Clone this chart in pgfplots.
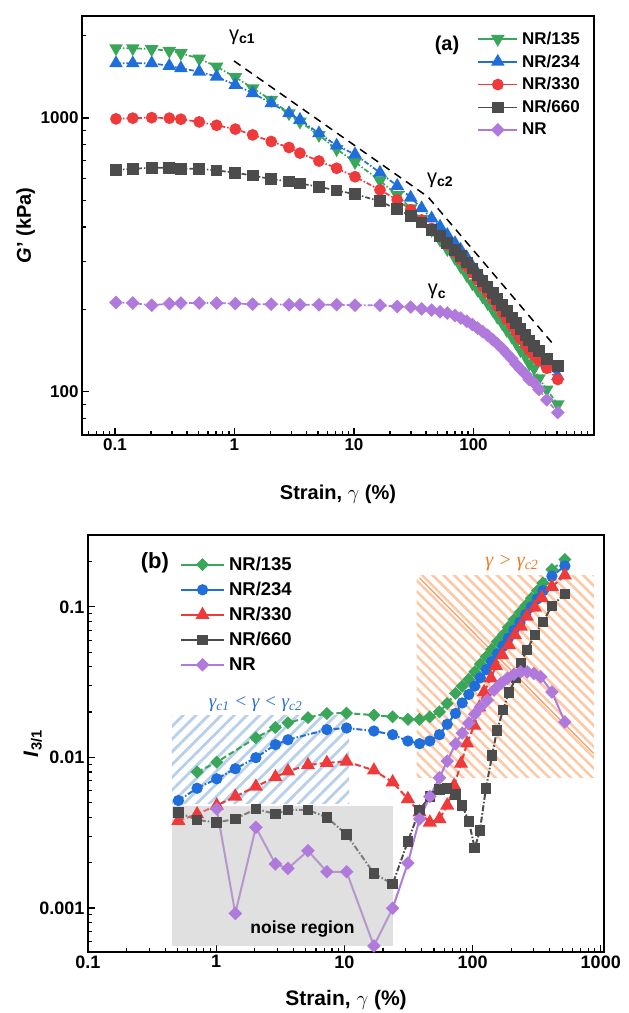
\documentclass[border=0pt]{standalone}
\usepackage{fontspec}
\setmainfont{Liberation Sans}
\newfontfamily\serifit{Liberation Serif}
\usepackage{pgfplots}
\usepackage{pgfplotstable}
\pgfplotsset{compat=1.18}
\usetikzlibrary{patterns.meta}

\definecolor{cgreen}{RGB}{58,166,90}
\definecolor{cblue}{RGB}{32,110,220}
\definecolor{cred}{RGB}{238,58,58}
\definecolor{cgrey}{RGB}{76,76,76}
\definecolor{cpurple}{RGB}{176,122,220}
\definecolor{hblue}{RGB}{184,208,234}
\definecolor{horange}{RGB}{253,200,165}
\definecolor{dorange}{RGB}{245,160,110}
\definecolor{torange}{RGB}{240,120,30}
\definecolor{tblue}{RGB}{40,112,210}
\definecolor{noisegrey}{RGB}{187,187,187}

\pgfplotstableread{
x g135 g234 g330 g660 gNR
0.102 1796 1583 992 646 212
0.141 1796 1583 998 652 211
0.203 1782 1583 1002 658 207
0.285 1758 1549 998 658 210
0.356 1723 1518 989 652 211
0.507 1645 1475 967 652 211
0.709 1539 1415 940 643 211
1.016 1408 1320 910 631 210
1.42 1283 1231 867 616 209
2.03 1163 1131 820 598 209
2.86 1040 1040 780 586 208
3.53 969 984 744 576 208
5.09 866 879 696 561 208
7.16 769 793 655 543 208
10.2 690 736 610 527 207
16.5 590 631 546 496 207
23.0 523 565 502 464 205
29.8 468 512 462 439 204
36.8 427 468 424 415 201
44.6 390 430 395 390 199
52.5 359 401 368 370 196
60.4 332 374 345 350 194
70.0 308 349 323 330 190
78.1 287 330 305 313 186
87.7 267 310 288 297 181
97.8 249 288 272 282 176
108 236 271 257 267 171
119 223 255 243 254 166
131 211 241 230 241 161
145 199 228 218 229 155
158 188 214 206 218 150
174 178 202 195 207 144
190 168 191 184 197 138
209 159 181 175 187 132
227 151 171 166 178 126
247 142 161 157 170 121
272 135 155 149 161 116
293 127 148 142 154 111
321 122 142 136 147 108
353 112 137 130 141 102
410 102 127 122 132 93.5
507 90 114 111 124 84
}\dataA

\pgfplotstableread{
x y
0.71 0.0080
1.01 0.0093
2.04 0.0135
2.9 0.0158
3.63 0.0170
5.2 0.0184
7.3 0.0196
10.4 0.0197
17 0.0191
23.8 0.0186
31.3 0.0179
38.6 0.0179
46.4 0.0186
55.2 0.0201
63.4 0.0228
73.6 0.0266
83 0.0297
93.5 0.033
104 0.037
115 0.0417
128 0.0467
141 0.0522
156 0.0588
173 0.065
190 0.073
210 0.082
234 0.0916
260 0.102
288 0.114
320 0.128
354 0.144
416 0.177
525 0.206
}\bGreen

\pgfplotstableread{
x y
0.507 0.00517
0.71 0.00624
1.01 0.00721
1.41 0.00841
2.04 0.00996
2.9 0.01216
3.63 0.0131
7.3 0.0153
10.4 0.01568
17 0.01497
23.8 0.01416
31.3 0.01285
38.6 0.01234
46.4 0.01285
55.2 0.01416
63.4 0.0166
73.6 0.0196
83 0.023
93.5 0.0262
104 0.0298
115 0.0338
128 0.0383
141 0.0432
156 0.0487
173 0.055
190 0.062
210 0.070
234 0.079
260 0.089
288 0.100
320 0.113
354 0.128
416 0.160
525 0.187
}\bBlue

\pgfplotstableread{
x y
0.507 0.0038
0.71 0.0042
1.01 0.0048
1.41 0.0055
2.04 0.0064
2.9 0.0074
3.63 0.0081
5.2 0.0089
7.3 0.0092
10.4 0.0094
17 0.0082
23.8 0.00685
31.3 0.0053
38.6 0.00432
46.4 0.0037
55.2 0.0039
63.4 0.0048
71.8 0.0065
81.3 0.0091
90.6 0.0124
103 0.0163
113 0.0215
123 0.0272
139 0.0336
152 0.0406
170 0.0479
192 0.0558
214 0.065
238 0.074
265 0.0862
306 0.099
347 0.115
416 0.136
525 0.162
}\bRed

\pgfplotstableread{
x y
0.507 0.00432
0.71 0.00384
1.01 0.0037
1.41 0.0039
2.04 0.00455
2.9 0.00421
3.63 0.00448
5.2 0.00448
7.3 0.0040
10.4 0.00307
17 0.0017
23.8 0.00144
31.3 0.00277
38.6 0.00448
46.4 0.0055
55.2 0.0061
63.4 0.0062
73.6 0.00567
83 0.0048
93.5 0.00376
104 0.0025
114 0.00326
127 0.0062
142 0.0103
155 0.0151
173 0.0206
192 0.0271
218 0.0336
238 0.0423
265 0.0517
306 0.065
354 0.0794
416 0.1016
525 0.122
}\bGrey

\pgfplotstableread{
x y
1.01 0.00455
1.41 0.00092
2.04 0.00343
2.9 0.00196
3.63 0.00183
5.2 0.0024
7.3 0.00174
10.4 0.00174
17 0.00056
23.8 0.000995
31.3 0.00199
38.6 0.0039
46.4 0.0055
55.2 0.00733
63.4 0.00945
73.6 0.0123
83 0.0145
93.5 0.0169
104 0.0194
115 0.0216
130 0.024
147 0.028
166 0.031
187 0.0335
210 0.0357
237 0.037
267 0.037
301 0.0361
340 0.0343
416 0.0272
525 0.0172
}\bPurple

\begin{document}
\begin{tikzpicture}
% ---------------- panel (a) ----------------
\begin{axis}[
  scale only axis, xmode=log, ymode=log,
  axis line style={line width=1.6pt},
  tick style={line width=1.2pt, black},
  major tick length=7pt, minor tick length=4pt,
  tick align=inside, tick pos=left,
  legend cell align=left,
  at={(0pt,0pt)}, anchor=south west,
  width=512pt, height=419pt,
  xmin=0.053, xmax=1019, ymin=69.6, ymax=2355,
  xtick={0.1,1,10,100}, xticklabels={0.1,1,10,100},
  minor xtick={0.06,0.07,0.08,0.09,0.2,0.3,0.4,0.5,0.6,0.7,0.8,0.9,2,3,4,5,6,7,8,9,20,30,40,50,60,70,80,90,200,300,400,500,600,700,800,900},
  ytick={100,1000}, yticklabels={100,1000},
  minor ytick={70,80,90,200,300,400,500,600,700,800,900,2000},
  tick label style={font=\fontsize{17}{19}\selectfont\bfseries},
  xlabel={Strain, $\gamma$ (\%)},
  ylabel={\textit{G}’ (kPa)},
  label style={font=\fontsize{20}{22}\selectfont\bfseries},
  xlabel style={at={(axis description cs:0.5,-0.141)}, anchor=center},
  ylabel style={at={(axis description cs:-0.11,0.5)}, anchor=center},
  legend style={draw=none, fill=none, at={(0.772,0.967)}, anchor=north west,
    inner sep=0pt, row sep=5pt, column sep=2pt,
    font=\fontsize{17}{17}\selectfont\bfseries},
  legend image code/.code={\draw[mark repeat=2,mark phase=2,#1,solid] plot coordinates {(0pt,0pt) (19.5pt,0pt) (39pt,0pt)};},
]
\addplot[forget plot, line width=1.5pt, black, dash pattern=on 8pt off 6pt] coordinates {(0.99,1615) (41.6,515) (454,151)};

\addplot[line width=1.7pt, dash pattern=on 5pt off 2pt on 1.5pt off 2pt, color=cgreen, mark=triangle*, mark size=6.2pt, mark options={solid, rotate=180}] table[x=x,y=g135] {\dataA};
\addlegendentry{NR/135}
\addplot[line width=1.7pt, dash pattern=on 5pt off 2pt on 1.5pt off 2pt, color=cblue, mark=triangle*, mark size=6.2pt, mark options={solid}] table[x=x,y=g234] {\dataA};
\addlegendentry{NR/234}
\addplot[line width=1.7pt, dash pattern=on 5pt off 2pt on 1.5pt off 2pt, color=cred, mark=*, mark size=5pt, mark options={solid}] table[x=x,y=g330] {\dataA};
\addlegendentry{NR/330}
\addplot[line width=1.7pt, dash pattern=on 5pt off 2pt on 1.5pt off 2pt, color=cgrey, mark=square*, mark size=5pt, mark options={solid}] table[x=x,y=g660] {\dataA};
\addlegendentry{NR/660}
\addplot[line width=1.7pt, dash pattern=on 5pt off 2pt on 1.5pt off 2pt, color=cpurple, mark=square*, mark size=4pt, mark options={solid, rotate=45}] table[x=x,y=gNR] {\dataA};
\addlegendentry{NR}

\node[font=\fontsize{20}{22}\selectfont\bfseries] at (axis cs:60,1845) {(a)};
\node[font=\fontsize{20}{22}\selectfont] at (axis cs:1.16,1977) {γ\textsubscript{\bfseries c1}};
\node[font=\fontsize{20}{22}\selectfont] at (axis cs:52.5,594) {γ\textsubscript{\bfseries c2}};
\node[font=\fontsize{20}{22}\selectfont] at (axis cs:49.5,232) {γ\textsubscript{\bfseries c}};
\end{axis}

% ---------------- panel (b) ----------------
\begin{axis}[
  scale only axis, xmode=log, ymode=log,
  axis line style={line width=1.6pt},
  tick style={line width=1.2pt, black},
  major tick length=7pt, minor tick length=4pt,
  tick align=inside, tick pos=left,
  legend cell align=left,
  at={(6pt,-517pt)}, anchor=south west,
  width=516pt, height=417pt,
  xmin=0.1, xmax=1060, ymin=0.00051, ymax=0.30,
  xtick={0.1,1,10,100,1000}, xticklabels={0.1,1,10,100,1000},
  minor xtick={0.2,0.3,0.4,0.5,0.6,0.7,0.8,0.9,2,3,4,5,6,7,8,9,20,30,40,50,60,70,80,90,200,300,400,500,600,700,800,900},
  ytick={0.001,0.01,0.1}, yticklabels={0.001,0.01,0.1},
  minor ytick={0.0006,0.0007,0.0008,0.0009,0.002,0.003,0.004,0.005,0.006,0.007,0.008,0.009,0.02,0.03,0.04,0.05,0.06,0.07,0.08,0.09,0.2},
  tick label style={font=\fontsize{18}{20}\selectfont\bfseries},
  xlabel={Strain, $\gamma$ (\%)},
  ylabel={\textit{I}\textsubscript{3/1}},
  label style={font=\fontsize{21}{23}\selectfont\bfseries},
  xlabel style={at={(axis description cs:0.5,-0.115)}, anchor=center},
  ylabel style={at={(axis description cs:-0.107,0.5)}, anchor=center},
  legend style={draw=none, fill=none, at={(0.178,0.952)}, anchor=north west,
    inner sep=0pt, row sep=6.2pt, column sep=2pt,
    font=\fontsize{18.5}{18.5}\selectfont\bfseries},
  legend image code/.code={\draw[mark repeat=2,mark phase=2,#1,solid] plot coordinates {(0pt,0pt) (21.5pt,0pt) (43pt,0pt)};},
]
% hatched regions
\addplot[forget plot, draw=none, pattern={Lines[angle=45,distance=9pt,line width=2.8pt]}, pattern color=hblue]
  coordinates {(0.451,0.00493) (10.9,0.00493) (10.9,0.019) (0.451,0.019)} -- cycle;
\addplot[forget plot, draw=none, pattern={Lines[angle=135,distance=7.6pt,line width=2.6pt]}, pattern color=horange]
  coordinates {(36.6,0.00736) (883,0.00736) (883,0.161) (36.6,0.161)} -- cycle;
\addplot[forget plot, line width=1.3pt, dorange] coordinates {(38.4,0.156) (883,0.0106)};

\addplot[line width=2pt, dash pattern=on 6pt off 3pt, color=cgreen, mark=square*, mark size=3.6pt, mark options={solid, rotate=45}] table {\bGreen};
\addlegendentry{NR/135}
\addplot[line width=2pt, dash pattern=on 6pt off 2pt on 1.5pt off 2pt, color=cblue, mark=*, mark size=4.6pt, mark options={solid}] table {\bBlue};
\addlegendentry{NR/234}
\addplot[line width=2pt, dash pattern=on 6pt off 3pt, color=cred, mark=triangle*, mark size=6.2pt, mark options={solid}] table {\bRed};
\addlegendentry{NR/330}
\addplot[line width=2pt, dash pattern=on 6pt off 2pt on 1.5pt off 2pt, color=cgrey, mark=square*, mark size=4.3pt, mark options={solid}] table {\bGrey};
\addlegendentry{NR/660}
\addplot[line width=2pt, color=cpurple, mark=square*, mark size=3.8pt, mark options={solid, rotate=45}] table {\bPurple};
\addlegendentry{NR}

% noise region overlay
\addplot[forget plot, draw=none, fill=noisegrey, fill opacity=0.46]
  coordinates {(0.451,0.000558) (23.8,0.000558) (23.8,0.00479) (0.451,0.00479)} -- cycle;

\node[font=\fontsize{17.5}{19}\selectfont\bfseries] at (axis cs:4.71,0.000724) {noise region};
\node[font=\fontsize{22}{24}\selectfont\bfseries] at (axis cs:0.332,0.196) {(b)};
\node[font=\fontsize{19}{21}\selectfont\serifit\itshape, text=tblue] at (axis cs:2.03,0.0226) {γ\textsubscript{c1} < γ < γ\textsubscript{c2}};
\node[font=\fontsize{20}{22}\selectfont\serifit\itshape, text=torange] at (axis cs:203,0.196) {γ > γ\textsubscript{c2}};
\end{axis}

\pgfresetboundingbox
\path (-82pt,-578pt) rectangle (547pt,435pt);
\end{tikzpicture}
\end{document}
